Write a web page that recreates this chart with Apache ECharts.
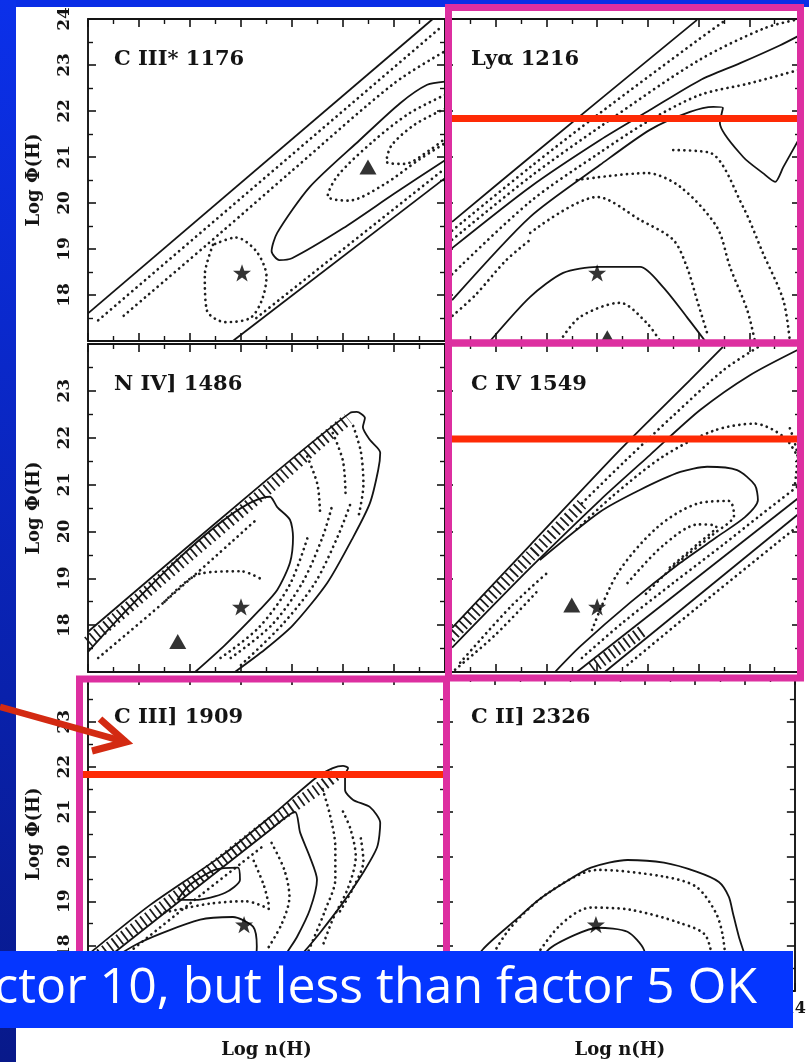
<!DOCTYPE html>
<html>
<head>
<meta charset="utf-8">
<script src="https://cdn.jsdelivr.net/npm/echarts@6/dist/echarts.min.js"></script>
<style>
  html, body { margin: 0; padding: 0; background: #ffffff; }
  #chart { width: 809px; height: 1062px; }
</style>
</head>
<body>
<div id="chart"></div>
<script>
// Axis ranges and tick labels shared by the six panels
const X_RANGE = [7, 14];
const Y_RANGE = [17, 24];
const X_TICK_LABELS = [8, 9, 10, 11, 12, 13, 14];
const Y_TICK_LABELS = [18, 19, 20, 21, 22, 23, 24];
const PANEL_TITLES = ['C III* 1176', 'Lyα 1216', 'N IV] 1486', 'C IV 1549', 'C III] 1909', 'C II] 2326'];

// C III* 1176 : [log n(H), log Phi(H)] contour vertices
const c3s1176Solid = [
  [[7, 17.6], [13.76, 24]],
  [[9.84, 17], [14, 20.54]],
  [[14, 22.64], [13.65, 22.57], [13.12, 22.17], [12.33, 21.37], [11.35, 20.35], [10.71, 19.35], [10.6, 18.95], [10.75, 18.76], [11.0, 18.8], [12.0, 19.45], [13.0, 20.2], [14, 20.93]]
];
const c3s1176Dotted = [
  [[7.2, 17.45], [13.95, 23.85]],
  [[7.7, 17.55], [9.6, 19.35], [11, 20.7], [13, 22.6], [14, 23.3]],
  [[10.3, 17.5], [14, 20.75]],
  [[14, 22.35], [13.3, 21.95], [12.6, 21.35], [11.9, 20.6], [11.7, 20.15], [12.1, 20.05], [12.8, 20.4], [13.5, 20.95], [14, 21.3]],
  [[14, 22.05], [13.4, 21.7], [12.95, 21.25], [12.85, 20.9], [13.2, 20.85], [13.7, 21.15], [14, 21.4]],
  [[9.45, 19.09], [9.29, 18.43], [9.33, 17.67], [9.69, 17.41], [10.18, 17.5], [10.41, 17.89], [10.5, 18.4], [10.3, 18.95], [9.9, 19.25], [9.45, 19.09]]
];
const c3s1176Star = [10.02, 18.48];
const c3s1176Triangle = [12.49, 20.78];

// Ly alpha 1216
const lya1216Solid = [
  [[7.14, 19.59], [8.68, 21.0], [11.97, 23.98]],
  [[7.14, 19.02], [8.68, 20.35], [10.06, 21.37], [11.04, 22.02], [12.03, 22.67], [12.82, 23.04], [13.61, 23.43], [14, 23.65]],
  [[7.14, 17.89], [8.68, 19.7], [10.06, 20.83], [11.04, 21.59], [11.83, 21.98], [12.29, 22.09], [12.48, 22.07], [12.42, 21.74], [12.88, 21.0], [13.27, 20.65], [13.51, 20.46], [13.67, 20.78], [14, 21.43]],
  [[7.89, 17.0], [8.68, 17.96], [9.33, 18.48], [10.0, 18.61], [10.85, 18.61], [11.3, 18.17], [11.77, 17.52], [12.13, 17.0]]
];
const lya1216Dotted = [
  [[7.14, 19.4], [8.68, 20.78], [10.06, 21.96], [11.97, 23.53], [12.5, 23.95]],
  [[7.14, 19.2], [8.68, 20.57], [10.06, 21.66], [11.97, 23.08], [13.3, 23.8], [14, 24]],
  [[7.14, 18.45], [8.68, 20.03], [10.06, 21.1], [11.04, 21.8], [12.03, 22.35], [13, 22.6], [14, 22.9]],
  [[8.68, 19.35], [10.0, 20.13], [10.85, 19.63], [11.5, 19.2], [11.77, 18.61], [11.97, 17.89], [12.17, 17.17]],
  [[9.6, 20.5], [10.98, 20.65], [11.64, 20.35], [12.36, 19.48], [12.62, 18.61], [12.96, 17.67], [13.11, 17.0]],
  [[11.5, 21.15], [12.23, 21.09], [12.88, 19.91], [13.27, 18.91], [13.67, 17.89], [13.8, 17.0]],
  [[9.27, 17.0], [9.66, 17.52], [10.45, 17.83], [10.98, 17.39], [11.24, 17.0]],
  [[7.15, 17.55], [7.6, 18.0], [8.2, 18.75], [8.68, 19.2]]
];
const lya1216Star = [10.0, 18.48];
const lya1216Triangle = [10.2, 17.07];

// N IV] 1486
const n4_1486Solid = [
  [[7, 17.86], [10.57, 21.16], [12.14, 22.53], [12.27, 22.55], [12.43, 22.42], [12.39, 22.23], [12.53, 21.95], [12.73, 21.68], [12.69, 21.31], [12.53, 20.61], [12.2, 19.88], [11.69, 18.9], [11.02, 18.0], [10.47, 17.48], [9.88, 17.0]],
  [[7, 17.43], [10.57, 20.74], [10.71, 20.52], [10.96, 20.25], [11.02, 19.88], [10.96, 19.33], [10.71, 18.75], [10.37, 18.33], [9.69, 17.58], [9.1, 17.0]]
];
const n4_1486Hatch = [
  [[7.0, 17.64], [9, 19.5], [10.57, 20.95], [11.6, 21.95], [12.1, 22.4]]
];
const n4_1486Dotted = [
  [[9.8, 17.3], [10.6, 18.0], [11.2, 18.9], [11.6, 19.88], [11.8, 20.6]],
  [[10.0, 17.15], [10.8, 18.0], [11.45, 18.9], [11.9, 19.9], [12.15, 20.6]],
  [[9.6, 17.3], [10.35, 17.95], [10.95, 18.85], [11.3, 19.85]],
  [[11.3, 21.6], [11.5, 21.0], [11.55, 20.4]],
  [[11.8, 22.1], [12.0, 21.5], [12.05, 20.8]],
  [[12.2, 22.25], [12.35, 21.7], [12.4, 21.0], [12.3, 20.3]],
  [[8.5, 18.5], [9.2, 19.1], [10.0, 19.15], [10.45, 18.95]],
  [[7.2, 17.3], [8.5, 18.5], [10.3, 20.25]]
];
const n4_1486Star = [10.0, 18.39];
const n4_1486Triangle = [8.76, 17.65];

// C IV 1549
const c4_1549Solid = [
  [[7.14, 17.94], [8.68, 19.71], [10.45, 21.74], [11.83, 23.23], [12.48, 23.94]],
  [[7.14, 17.52], [8.68, 19.22], [10.06, 20.67], [11.04, 21.63], [12.03, 22.59], [13.02, 23.34], [14, 23.9]],
  [[8.87, 19.39], [10.06, 20.42], [10.85, 20.89], [11.64, 21.27], [12.17, 21.38], [12.76, 21.31], [13.11, 20.99], [13.17, 20.67], [12.92, 20.31], [12.36, 19.88], [11.64, 19.33], [10.65, 18.48], [9.66, 17.54], [9.17, 17.0]],
  [[9.6, 17.0], [14, 20.74]],
  [[10.15, 17.0], [14, 20.4]]
];
const c4_1549Hatch = [
  [[7.1, 17.73], [8.68, 19.47], [9.7, 20.58]],
  [[9.9, 17.08], [10.9, 17.88]]
];
const c4_1549Dotted = [
  [[9.7, 20.6], [10.5, 21.45], [11.5, 22.47], [12.5, 23.45], [13.2, 23.95]],
  [[9.6, 20.05], [10.3, 20.75], [11.3, 21.6], [12.3, 22.15], [13.1, 22.3], [13.7, 22.0], [14, 21.5]],
  [[13.8, 22.2], [13.95, 21.6], [13.9, 21.0]],
  [[9.9, 17.9], [10.4, 19.1], [11.2, 20.1], [12.0, 20.6], [12.6, 20.65], [12.7, 20.35], [12.3, 19.95], [11.5, 19.25], [10.9, 18.6]],
  [[10.6, 18.9], [11.3, 19.7], [12.0, 20.15], [12.35, 20.1], [12.0, 19.75], [11.4, 19.2]],
  [[9.7, 17.3], [10.5, 18.05], [11.5, 18.9], [12.5, 19.73], [13.2, 20.33], [14, 21.0]],
  [[10.6, 17.15], [12, 18.4], [14, 20.15]],
  [[7.3, 17.2], [8.3, 18.4], [9.0, 19.1]],
  [[7.2, 17.05], [8.0, 17.8], [8.8, 18.7]]
];
const c4_1549Star = [10.0, 18.39];
const c4_1549Triangle = [9.5, 18.43];

// C III] 1909
const c3_1909Solid = [
  [[7, 17.81], [8.22, 18.92], [9.59, 19.99], [10.57, 20.88], [11.49, 21.77], [11.8, 21.97], [12.0, 22.02], [12.1, 21.97], [12.04, 21.82], [12.04, 21.48], [12.2, 21.26], [12.53, 21.1], [12.73, 20.75], [12.67, 20.21], [12.39, 19.63], [12.0, 18.97], [11.55, 18.3], [11.22, 17.85], [10.57, 17.0]],
  [[7.14, 17.52], [10.57, 20.59], [11.06, 20.99], [11.16, 20.53], [11.35, 19.99], [11.49, 19.48], [11.35, 18.81], [11.1, 18.21], [10.9, 17.85], [10.47, 17.0]],
  [[8.75, 19.03], [9.0, 19.37], [9.49, 19.7], [9.94, 19.75], [9.98, 19.48], [9.69, 19.19], [9.1, 19.03], [8.75, 19.03]],
  [[7, 17.36], [8.02, 18.08], [9.2, 18.59], [9.84, 18.65], [10.24, 18.43], [10.31, 17.99], [10.18, 17.0]]
];
const c3_1909Hatch = [
  [[7.05, 17.65], [9, 19.35], [10.57, 20.74], [11.5, 21.5], [11.9, 21.85]]
];
const c3_1909Dotted = [
  [[11.6, 21.5], [11.75, 20.9], [11.85, 20.2], [11.85, 19.5], [11.65, 18.8], [11.4, 18.1], [11.1, 17.3]],
  [[12.0, 21.0], [12.15, 20.6], [12.25, 20.0], [12.1, 19.3], [11.8, 18.6], [11.6, 18.0]],
  [[12.35, 20.4], [12.4, 19.9], [12.2, 19.3], [11.9, 18.7]],
  [[10.6, 20.3], [10.85, 19.7], [10.95, 19.1], [10.8, 18.5], [10.5, 17.9]],
  [[10.25, 19.9], [10.45, 19.35], [10.55, 18.9]],
  [[7.3, 17.4], [9.0, 18.95], [10.4, 20.2]],
  [[8.5, 18.75], [9.4, 18.95], [10.1, 19.0], [10.6, 18.8]]
];
const c3_1909Star = [10.06, 18.48];

// C II] 2326
const c2_2326Solid = [
  [[7.2, 17.0], [7.75, 17.92], [8.42, 18.59], [8.87, 19.03], [9.41, 19.43], [9.92, 19.75], [10.65, 19.92], [11.38, 19.86], [12.03, 19.66], [12.48, 19.43], [12.68, 19.1], [12.76, 18.74], [12.88, 18.21], [13.02, 17.7], [13.11, 17.0]],
  [[8.48, 17.0], [9.07, 17.92], [9.6, 18.25], [10.06, 18.41], [10.65, 18.32], [10.98, 17.92], [11.14, 17.0]]
];
const c2_2326Dotted = [
  [[7.7, 17.3], [8.28, 18.37], [9.07, 19.19], [10.06, 19.7], [11.38, 19.55], [12.03, 19.32], [12.42, 18.74], [12.56, 18.21], [12.68, 17.0]],
  [[8.6, 17.4], [9.27, 18.43], [9.92, 18.86], [10.71, 18.81], [11.69, 18.52], [12.23, 18.21], [12.42, 17.0]]
];
const c2_2326Star = [10.02, 18.48];

// Panel layout (pixels) of the 3 x 2 grid
const COLS = [{ left: 88, width: 357 }, { left: 445, width: 355 }];
const ROWS = [{ top: 19, height: 322 }, { top: 344, height: 328 }, { top: 677, height: 314 }];

const panels = [
  { solid: c3s1176Solid, dotted: c3s1176Dotted, hatch: [], star: c3s1176Star, triangle: c3s1176Triangle },
  { solid: lya1216Solid, dotted: lya1216Dotted, hatch: [], star: lya1216Star, triangle: lya1216Triangle },
  { solid: n4_1486Solid, dotted: n4_1486Dotted, hatch: n4_1486Hatch, star: n4_1486Star, triangle: n4_1486Triangle },
  { solid: c4_1549Solid, dotted: c4_1549Dotted, hatch: c4_1549Hatch, star: c4_1549Star, triangle: c4_1549Triangle },
  { solid: c3_1909Solid, dotted: c3_1909Dotted, hatch: c3_1909Hatch, star: c3_1909Star, triangle: null },
  { solid: c2_2326Solid, dotted: c2_2326Dotted, hatch: [], star: c2_2326Star, triangle: null }
];

const INK = '#141414';
const SERIF = 'DejaVu Serif';
const STAR = 'path://M12,0 L14.9,8.3 L23.4,8.3 L16.5,13.5 L19.1,21.8 L12,16.7 L4.9,21.8 L7.5,13.5 L0.6,8.3 L9.1,8.3 Z';

const grids = [], xAxes = [], yAxes = [], series = [], titles = [];

function tickStyle() {
  return {
    axisLine: { show: true, onZero: false, lineStyle: { color: INK, width: 1.9 } },
    axisTick: { show: true, inside: true, length: 8, lineStyle: { color: INK, width: 1.6 } },
    minorTick: { show: true, splitNumber: 2, length: 5, lineStyle: { color: INK, width: 1.4 } },
    splitLine: { show: false },
    minorSplitLine: { show: false }
  };
}

panels.forEach((p, i) => {
  const row = Math.floor(i / 2), col = i % 2;
  grids.push({ left: COLS[col].left, top: ROWS[row].top, width: COLS[col].width, height: ROWS[row].height, containLabel: false });

  const bottomRow = row === 2;
  xAxes.push(Object.assign({
    type: 'value', gridIndex: i, position: 'bottom', min: X_RANGE[0], max: X_RANGE[1], interval: 1,
    axisLabel: {
      show: bottomRow, margin: 10, fontFamily: SERIF, fontWeight: 'bold', fontSize: 16, color: INK,
      formatter: v => X_TICK_LABELS.includes(v) ? String(v) : ''
    },
    name: bottomRow ? 'Log n(H)' : '', nameLocation: 'middle', nameGap: 50,
    nameTextStyle: { fontFamily: SERIF, fontWeight: 'bold', fontSize: 18, color: INK }
  }, tickStyle()));
  xAxes.push(Object.assign({
    type: 'value', gridIndex: i, position: 'top', min: X_RANGE[0], max: X_RANGE[1], interval: 1,
    axisLabel: { show: false }
  }, tickStyle()));

  const leftCol = col === 0;
  yAxes.push(Object.assign({
    type: 'value', gridIndex: i, position: 'left', min: Y_RANGE[0], max: Y_RANGE[1], interval: 1,
    axisLabel: {
      show: leftCol, rotate: 90, margin: 15, fontFamily: SERIF, fontWeight: 'bold', fontSize: 17, color: INK,
      formatter: v => (Y_TICK_LABELS.includes(v) && !(v === 24 && row > 0)) ? String(v) : ''
    },
    name: leftCol ? 'Log Φ(H)' : '', nameLocation: 'middle', nameGap: 45, nameRotate: 90,
    nameTextStyle: { fontFamily: SERIF, fontWeight: 'bold', fontSize: 18, color: INK }
  }, tickStyle()));
  yAxes.push(Object.assign({
    type: 'value', gridIndex: i, position: 'right', min: Y_RANGE[0], max: Y_RANGE[1], interval: 1,
    axisLabel: { show: false }
  }, tickStyle()));

  const ax = { xAxisIndex: 2 * i, yAxisIndex: 2 * i };

  p.hatch.forEach(c => series.push(Object.assign({
    type: 'line', data: c, showSymbol: false, silent: true, smooth: 0.2, z: 2,
    lineStyle: { color: '#1c1c1c', width: 12, type: [1.8, 4.2] }
  }, ax)));
  p.dotted.forEach(c => series.push(Object.assign({
    type: 'line', data: c, showSymbol: false, silent: true, smooth: c.length > 2 ? 0.3 : false, z: 3,
    lineStyle: { color: '#1e1e1e', width: 2.7, type: [0.1, 5.5], cap: 'round' }
  }, ax)));
  p.solid.forEach(c => series.push(Object.assign({
    type: 'line', data: c, showSymbol: false, silent: true, smooth: c.length > 2 ? 0.25 : false, z: 4,
    lineStyle: { color: INK, width: 1.8 }
  }, ax)));
  series.push(Object.assign({
    type: 'scatter', data: [p.star], symbol: STAR, symbolSize: 18, symbolKeepAspect: true, silent: true, z: 5,
    itemStyle: { color: '#000' }
  }, ax));
  if (p.triangle) {
    series.push(Object.assign({
      type: 'scatter', data: [p.triangle], symbol: 'triangle', symbolSize: [17, 15], silent: true, z: 5,
      itemStyle: { color: '#000' }
    }, ax));
  }

  titles.push({
    text: PANEL_TITLES[i], left: COLS[col].left + 26, top: ROWS[row].top + 30, padding: 0,
    textStyle: { fontFamily: SERIF, fontWeight: 'bold', fontSize: 21, color: INK, lineHeight: 22 }
  });
});

// Slide overlays: frame, highlight boxes, reference levels, arrow and caption banner
const MAGENTA = '#dd2fa0';
const RED = '#fe2a05';
const graphic = [
  { type: 'rect', z: 100, shape: { x: 0, y: 0, width: 809, height: 7 }, style: { fill: '#0a2ee6' } },
  { type: 'rect', z: 100, shape: { x: 0, y: 0, width: 16, height: 1062 },
    style: { fill: { type: 'linear', x: 0, y: 0, x2: 0, y2: 1, colorStops: [{ offset: 0, color: '#0b30ea' }, { offset: 1, color: '#08198a' }] } } },
  { type: 'rect', z: 101, shape: { x: 448.5, y: 7.5, width: 352, height: 335.5 }, style: { fill: 'none', stroke: MAGENTA, lineWidth: 7 } },
  { type: 'rect', z: 101, shape: { x: 448.5, y: 343, width: 352, height: 335 }, style: { fill: 'none', stroke: MAGENTA, lineWidth: 7 } },
  { type: 'rect', z: 101, shape: { x: 79.5, y: 679, width: 367, height: 330 }, style: { fill: 'none', stroke: MAGENTA, lineWidth: 7 } },
  { type: 'line', z: 102, shape: { x1: 452, y1: 118.5, x2: 797, y2: 118.5 }, style: { stroke: RED, lineWidth: 7 } },
  { type: 'line', z: 102, shape: { x1: 452, y1: 439, x2: 797, y2: 439 }, style: { stroke: RED, lineWidth: 7 } },
  { type: 'line', z: 102, shape: { x1: 83, y1: 774.5, x2: 443, y2: 774.5 }, style: { stroke: RED, lineWidth: 7 } },
  { type: 'polyline', z: 103, shape: { points: [[0, 707], [122, 741]] }, style: { stroke: '#d32a12', lineWidth: 6.5, fill: 'none' } },
  { type: 'polyline', z: 103, shape: { points: [[100, 719], [126, 742], [92, 751]] }, style: { stroke: '#d32a12', lineWidth: 7, fill: 'none', lineJoin: 'miter' } },
  { type: 'rect', z: 110, shape: { x: 0, y: 951, width: 793, height: 77 }, style: { fill: '#0536ff' } },
  { type: 'text', z: 111, x: 757, y: 989,
    style: { text: 'ctor 10, but less than factor 5 OK', fill: '#ffffff', font: '50px "Open Sans"', align: 'right', verticalAlign: 'middle' } }
];

const chart = echarts.init(document.getElementById('chart'));
chart.setOption({
  animation: false,
  backgroundColor: '#ffffff',
  title: titles,
  grid: grids,
  xAxis: xAxes,
  yAxis: yAxes,
  series: series,
  graphic: graphic
});
</script>
</body>
</html>
